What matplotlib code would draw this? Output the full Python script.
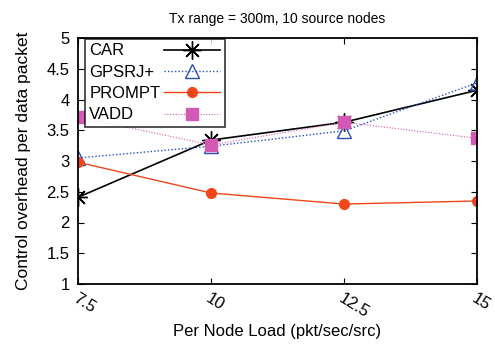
import matplotlib
matplotlib.use("Agg")
import matplotlib.pyplot as plt

plt.rcParams['font.family'] = ['Liberation Sans', 'DejaVu Sans']

load = [7.5, 10, 12.5, 15]
car = [2.41, 3.34, 3.63, 4.15]
gpsrj = [3.05, 3.24, 3.49, 4.27]
prompt = [2.98, 2.48, 2.30, 2.35]
vadd = [3.72, 3.26, 3.63, 3.37]

fig = plt.figure(figsize=(4.95, 3.5), dpi=100)
ax = fig.add_axes([78/495, 1 - 284/350, (477-78)/495, (284-38)/350])

ax.plot(load, car, color='black', lw=1.2, marker=(8, 2, 0), ms=13, mew=1.0, label='CAR')
ax.plot(load, gpsrj, color='#2a4db8', lw=1.0, ls=(0, (1, 1.5)), marker='^', ms=10,
        mfc='none', mec='#2a4db8', mew=1.0, label='GPSRJ+')
ax.plot(load, prompt, color='#f0461a', lw=1.0, marker='o', ms=7, label='PROMPT')
ax.plot(load, vadd, color='#d25ab4', lw=0.8, ls=(0, (1, 1.5)), marker='s', ms=8,
        label='VADD')

ax.set_xlim(7.5, 15)
ax.set_ylim(1, 5)
ax.set_xticks(load)
ax.set_xticklabels(['7.5', '10', '12.5', '15'], rotation=-32, ha='left', va='top',
                   rotation_mode='anchor')
ax.set_yticks([1, 1.5, 2, 2.5, 3, 3.5, 4, 4.5, 5])
ax.set_yticklabels(['1', '1.5', '2', '2.5', '3', '3.5', '4', '4.5', '5'])
ax.tick_params(direction='in', top=True, right=True, labelsize=12, length=4)
ax.tick_params(axis='y', pad=6)
ax.tick_params(axis='x', pad=5)
for s in ax.spines.values():
    s.set_linewidth(1.3)

ax.set_xlabel('Per Node Load (pkt/sec/src)', fontsize=12, labelpad=2)
ax.set_ylabel('Control overhead per data packet', fontsize=12.5, labelpad=11)
ax.set_title('Tx range = 300m, 10 source nodes', fontsize=10, pad=11)

leg = ax.legend(loc='upper left', bbox_to_anchor=(0.018, 0.995), markerfirst=False,
                fontsize=12, frameon=True, fancybox=False, edgecolor='black',
                handlelength=3.4, borderpad=0.25, labelspacing=0.38, handletextpad=0.2,
                borderaxespad=0.0)
leg.get_frame().set_linewidth(1.2)

# left-align the labels, keep the sample lines in one column on the right
fig.canvas.draw()
r = fig.canvas.get_renderer()
col = leg._legend_handle_box.get_children()[0]
col.align = 'left'
widths = [t.get_window_extent(r).width for t in leg.get_texts()]
wmax = max(widths)
for row, w in zip(col.get_children(), widths):
    row.sep = 0.2 * 12 + (wmax - w) * 72 / fig.dpi

fig.savefig('out.png', dpi=100)
